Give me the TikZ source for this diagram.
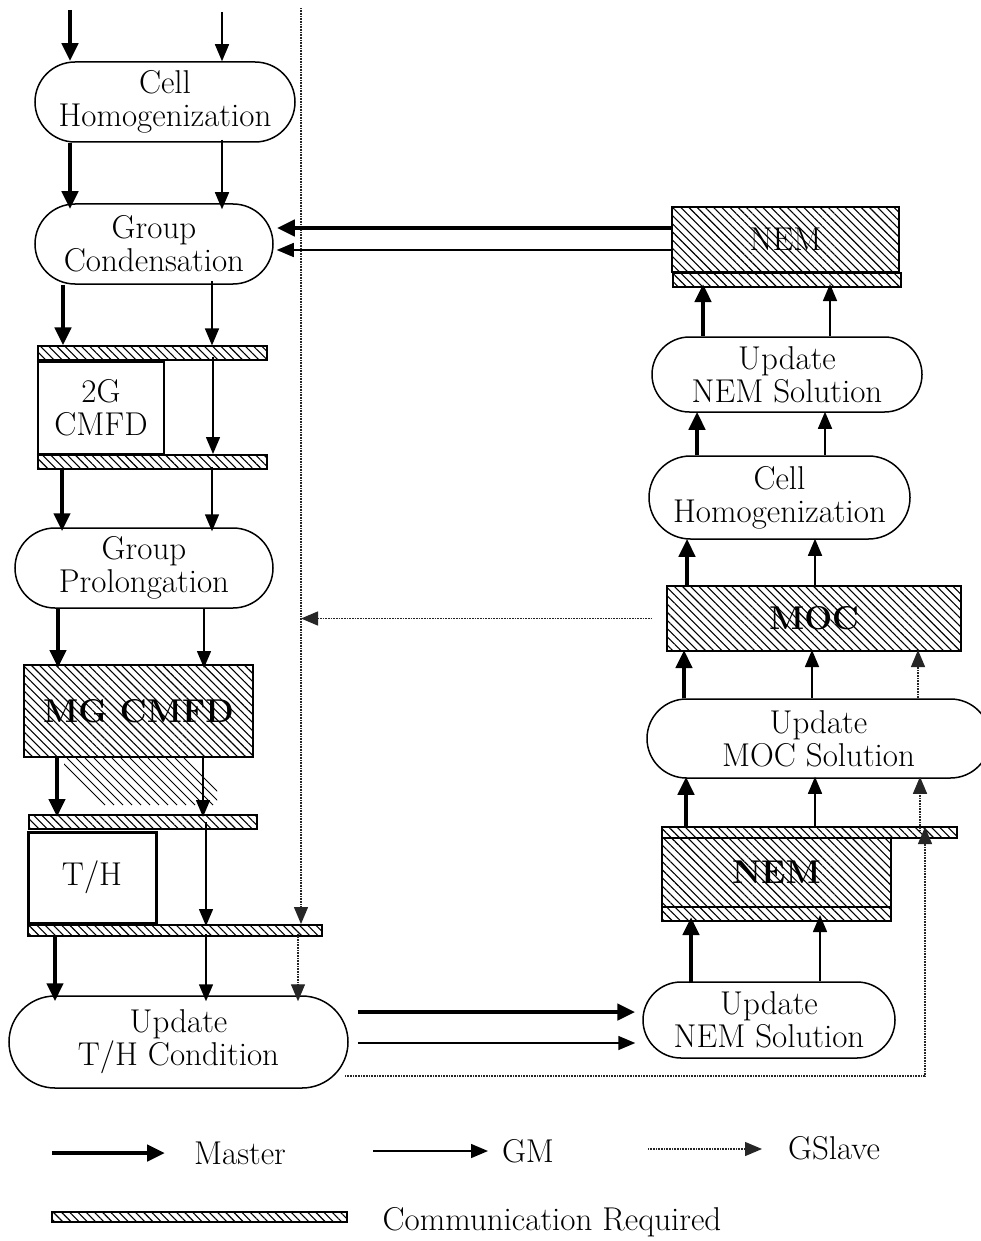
\documentclass[tikz,border=0pt]{standalone}
\usetikzlibrary{arrows.meta,patterns.meta}
\newcommand\mainfs{\fontsize{33}{33}\selectfont}
\newcommand\legfs{\fontsize{33}{34}\selectfont}
\tikzset{
  hatch/.style={pattern={Lines[angle=-45,distance=5.8pt,line width=1.1pt]}},
  stad/.style={draw, line width=1.5pt, rounded corners=#1, align=center, font=\mainfs, inner sep=0pt},
  plainbox/.style={draw, line width=2.4pt, align=center, font=\mainfs, inner sep=0pt},
  hbox/.style={draw, line width=2pt, hatch, align=center, font=\mainfs, inner sep=0pt},
  cbar/.style={draw, line width=2pt, hatch, inner sep=0pt},
  master/.style={line width=4.5pt, -{Triangle[length=18pt,width=16pt]}},
  gm/.style={line width=1.5pt, -{Triangle[length=17pt,width=14pt]}},
  gslave/.style={line width=1.3pt, black!85, dash pattern=on 1pt off 0.6pt, -{Triangle[length=17pt,width=14pt]}},
}
\begin{document}
\begin{tikzpicture}[x=1pt,y=-1pt]
\useasboundingbox (0,0) rectangle (981,1241);
\clip (0,0) rectangle (981,1241);

% ---------- left column ----------
\node[stad=40pt, minimum width=260pt, minimum height=80pt] (ch1) at (165,102) {Cell\\Homogenization};
\node[stad=40pt, minimum width=238pt, minimum height=80pt] (gc) at (154,244) {Group\\Condensation};
\node[cbar, minimum width=229pt, minimum height=14pt] (bar1) at (152.5,353) {};
\node[plainbox, minimum width=126pt, minimum height=92pt] (cm2) at (101,408) {2G\\CMFD};
\node[cbar, minimum width=229pt, minimum height=14pt] (bar2) at (152.5,462) {};
\node[stad=40pt, minimum width=258pt, minimum height=80pt] (gp) at (144,568) {Group\\Prolongation};
\begin{scope}
  \clip (64,758) rectangle (217,806);
  \foreach \x in {58,67,...,190} \draw[line width=1pt] (\x,758) -- (\x+47,805);
\end{scope}
\node[hbox, minimum width=229pt, minimum height=92pt, font=\mainfs\bfseries] (mg) at (138.5,711) {MG CMFD};
\node[cbar, minimum width=228pt, minimum height=14pt] (bar3) at (143,822) {};
\node[plainbox, line width=3pt, minimum width=128pt, minimum height=91pt] (th) at (92,877.5) {T/H};
\node[cbar, minimum width=294pt, minimum height=11pt] (bar4) at (175,930.5) {};
\node[stad=46pt, minimum width=339pt, minimum height=92pt] (uth) at (178.5,1042) {Update\\T/H Condition};

% ---------- right column ----------
\node[hbox, minimum width=227pt, minimum height=65pt] (nem1) at (785.5,239.5) {NEM};
\node[cbar, minimum width=228pt, minimum height=14pt] (bar5) at (787,280) {};
\node[stad=37.5pt, minimum width=270pt, minimum height=75pt] (un1) at (787,374.5) {Update\\NEM Solution};
\node[stad=41.5pt, minimum width=261pt, minimum height=83pt] (ch2) at (779.5,497.5) {Cell\\Homogenization};
\node[hbox, minimum width=294pt, minimum height=65pt, font=\mainfs\bfseries] (moc) at (814,618.5) {MOC};
\node[stad=39.5pt, minimum width=343pt, minimum height=79pt] (umoc) at (818.5,738.5) {Update\\MOC Solution};
\node[cbar, minimum width=295pt, minimum height=11pt] (bar6) at (809.5,832.5) {};
\node[hbox, minimum width=229pt, minimum height=69pt, font=\mainfs\bfseries] (nem2) at (776.5,872.5) {NEM};
\node[cbar, minimum width=229pt, minimum height=14pt] (bar7) at (776.5,914) {};
\node[stad=38pt, minimum width=252pt, minimum height=76pt] (un2) at (769,1020) {Update\\NEM Solution};

% ---------- left arrows ----------
\coordinate (tm) at (70,10);
\coordinate (tg) at (222,12);
\coordinate (vtop) at (301,8);
\draw[master] (tm) -- (tm |- ch1.north);
\draw[gm] (tg) -- (tg |- ch1.north);
\draw[gslave] (vtop) -- (vtop |- bar4.north);

\draw[master] (70,0 |- ch1.south) -- ([yshift=-6pt]70,0 |- gc.north);
\draw[gm] ([yshift=3pt]222,0 |- ch1.south) -- ([yshift=-6pt]222,0 |- gc.north);

\draw[master] (63,0 |- gc.south) -- (63,0 |- bar1.north);
\draw[gm] ([yshift=4pt]212,0 |- gc.south) -- (212,0 |- bar1.north);
\draw[gm] ([yshift=4pt]213,0 |- bar1.south) -- (213,0 |- bar2.north);

\draw[master] (62,0 |- bar2.south) -- ([yshift=-4pt]62,0 |- gp.north);
\draw[gm] ([yshift=3pt]212,0 |- bar2.south) -- ([yshift=-4pt]212,0 |- gp.north);

\draw[master] (58,0 |- gp.south) -- ([yshift=-4pt]58,0 |- mg.north);
\draw[gm] (204,0 |- gp.south) -- ([yshift=-4pt]204,0 |- mg.north);

\draw[master] (57,0 |- mg.south) -- ([yshift=-3pt]57,0 |- bar3.north);
\draw[gm] (203,0 |- mg.south) -- ([yshift=-3pt]203,0 |- bar3.north);
\draw[gm] ([yshift=8pt]206,0 |- bar3.south) -- ([yshift=-2pt]206,0 |- bar4.north);

\draw[master] (55,0 |- bar4.south) -- ([yshift=-6pt]55,0 |- uth.north);
\draw[gm] ([yshift=3pt]206,0 |- bar4.south) -- ([yshift=-6pt]206,0 |- uth.north);
\draw[gslave] ([yshift=3pt]298,0 |- bar4.south) -- ([yshift=-6pt]298,0 |- uth.north);

% ---------- cross arrows ----------
\draw[master] (nem1.west |- 0,228) -- ([xshift=3pt]gc.east |- 0,228);
\draw[gm] (nem1.west |- 0,250) -- ([xshift=3pt]gc.east |- 0,250);
\draw[gslave] ([xshift=-14pt]moc.west) -- (vtop |- moc.west);
\draw[master] ([xshift=9pt]uth.east |- 0,1012) -- ([xshift=-7pt]un2.west |- 0,1012);
\draw[gm] ([xshift=9pt]uth.east |- 0,1043) -- ([xshift=-7pt]un2.west |- 0,1043);
\coordinate (lb) at (345,1076);
\coordinate (lc) at (925,1076);
\draw[gslave] (lb) -- (lc) -- ([yshift=12pt]lc |- bar6.south);

% ---------- right arrows (upwards) ----------
\draw[master] (703,0 |- un1.north) -- ([yshift=4pt]703,0 |- bar5.south);
\draw[gm] (830,0 |- un1.north) -- ([yshift=4pt]830,0 |- bar5.south);
\draw[master] (697,0 |- ch2.north) -- ([yshift=1pt]697,0 |- un1.south);
\draw[gm] (825,0 |- ch2.north) -- ([yshift=1pt]825,0 |- un1.south);
\draw[master] (687,0 |- moc.north) -- ([yshift=1pt]687,0 |- ch2.south);
\draw[gm] (815,0 |- moc.north) -- ([yshift=1pt]815,0 |- ch2.south);
\draw[master] (684,0 |- umoc.north) -- ([yshift=2pt]684,0 |- moc.south);
\draw[gm] (812,0 |- umoc.north) -- ([yshift=2pt]812,0 |- moc.south);
\draw[gslave] (918,0 |- umoc.north) -- ([yshift=2pt]918,0 |- moc.south);
\draw[master] (686,0 |- bar6.north) -- ([yshift=2pt]686,0 |- umoc.south);
\draw[gm] (815,0 |- bar6.north) -- ([yshift=2pt]815,0 |- umoc.south);
\draw[gslave] ([yshift=-5pt]920,0 |- bar6.north) -- ([yshift=2pt]920,0 |- umoc.south);
\draw[master] ([yshift=-2pt]691,0 |- un2.north) -- ([yshift=5pt]691,0 |- bar7.south);
\draw[gm] (820,0 |- un2.north) -- ([yshift=7pt]820,0 |- bar7.south);

% ---------- legend ----------
\coordinate (lm1) at (52,1153); \coordinate (lm2) at (165,1153);
\coordinate (lg1) at (373,1151); \coordinate (lg2) at (488,1151);
\coordinate (ls1) at (648,1149); \coordinate (ls2) at (762,1149);
\draw[master] (lm1) -- (lm2);
\draw[gm] (lg1) -- (lg2);
\draw[gslave] (ls1) -- (ls2);
\node[font=\legfs] (tmaster) at (240,1153) {Master};
\node[font=\legfs] (tgm) at (528,1151) {GM};
\node[font=\legfs] (tgs) at (834,1148) {GSlave};
\node[cbar, minimum width=295pt, minimum height=10pt] (lbar) at (199.5,1217) {};
\node[font=\legfs] (tcomm) at (552,1222) {Communication Required};
\end{tikzpicture}
\end{document}
